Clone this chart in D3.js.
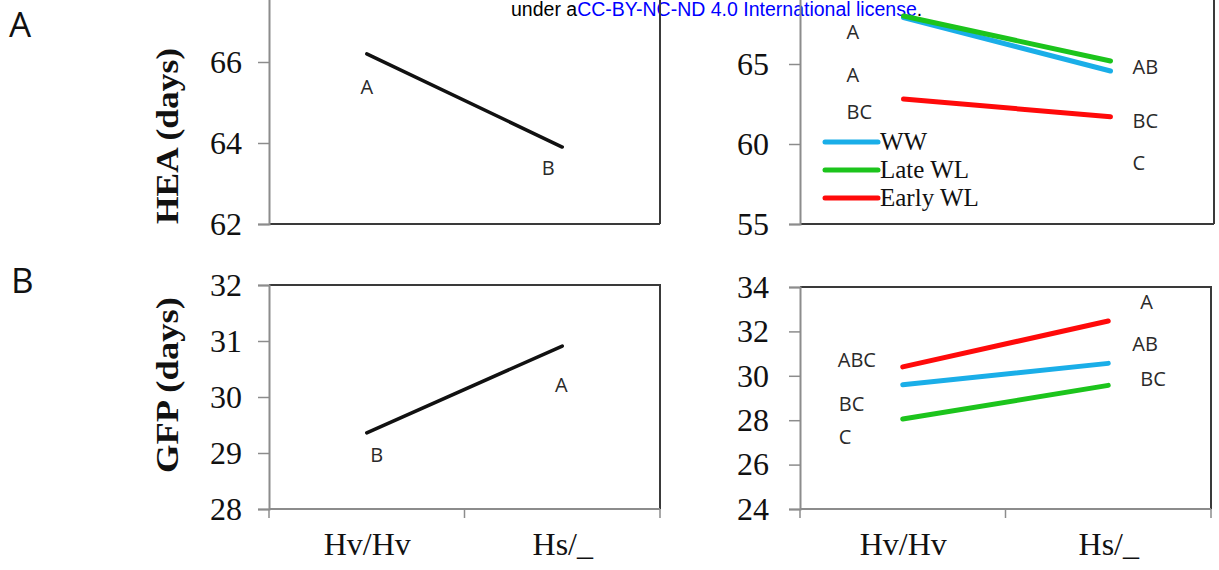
<!DOCTYPE html>
<html>
<head>
<meta charset="utf-8">
<script src="https://cdn.jsdelivr.net/npm/d3@7"></script>
<style>
  html, body { margin: 0; padding: 0; background: #fff; }
  svg { display: block; }
</style>
</head>
<body>
<svg id="chart" width="1219" height="570"></svg>
<script>
// ---- data ----
const categories = ["Hv/Hv", "Hs/_"];
const treatments = ["WW", "Late WL", "Early WL"];

// heading date (HEA), genotype means and genotype x treatment means
const heaMean = [66.2, 63.9];
const heaWW = [67.9, 64.56];
const heaLateWL = [68.0, 65.19];
const heaEarlyWL = [62.81, 61.7];

// grain filling period (GFP)
const gfpMean = [29.36, 30.91];
const gfpWW = [29.6, 30.56];
const gfpLateWL = [28.05, 29.57];
const gfpEarlyWL = [30.4, 32.47];

// mean separation letters
const heaMeanLetters = ["A", "B"];
const gfpMeanLetters = ["B", "A"];
const heaTrtLettersHv = ["A", "A", "BC"];
const heaTrtLettersHs = ["AB", "BC", "C"];
const gfpTrtLettersHv = ["ABC", "BC", "C"];
const gfpTrtLettersHs = ["A", "AB", "BC"];

// axis ticks
const heaMeanTicks = [62, 64, 66, 68];
const heaTrtTicks = [55, 60, 65, 70];
const gfpMeanTicks = [28, 29, 30, 31, 32];
const gfpTrtTicks = [24, 26, 28, 30, 32, 34];

// ---- styles ----
const colors = { "WW": "#1aaee8", "Late WL": "#1cc41c", "Early WL": "#ff0a0a" };
const serif = "'Liberation Serif', 'Times New Roman', serif";
const sans = "'Open Sans', 'Liberation Sans', Arial, sans-serif";
const axisGray = "#8c8c8c";
const boxDark = "#3a3a3a";

const svg = d3.select("#chart");

// header line
const header = svg.append("text")
  .attr("x", 511).attr("y", 16)
  .attr("font-family", "'Liberation Sans', Arial, sans-serif")
  .attr("font-size", 19.5)
  .attr("fill", "#000");
header.append("tspan").text("under a");
header.append("tspan").attr("fill", "#0000ff").text("CC-BY-NC-ND 4.0 International license");
header.append("tspan").text(".");

// panel letters
svg.append("text").attr("x", 9).attr("y", 37).attr("font-family", sans)
  .attr("font-size", 35).attr("fill", "#111").text("A");
svg.append("text").attr("x", 11).attr("y", 293).attr("font-family", sans)
  .attr("font-size", 35).attr("fill", "#111").text("B");

// y titles
function yTitle(text, x, y) {
  svg.append("text")
    .attr("transform", `translate(${x},${y}) rotate(-90)`)
    .attr("text-anchor", "middle")
    .attr("font-family", serif)
    .attr("font-weight", "bold")
    .attr("font-size", 32)
    .attr("textLength", 176)
    .attr("lengthAdjust", "spacingAndGlyphs")
    .attr("fill", "#111")
    .text(text);
}
yTitle("HEA (days)", 178, 136);
yTitle("GFP (days)", 178, 385);

// generic panel
function panel(cfg) {
  const x = d3.scalePoint().domain(categories).range([cfg.left, cfg.right]).padding(0.5);
  const step = x.step();
  const y = d3.scaleLinear().domain(cfg.domain).range([cfg.bottom, cfg.top]);
  const g = svg.append("g");

  // plot box (top and right edges dark)
  g.append("path")
    .attr("d", `M${cfg.left},${y(cfg.domain[1])}H${cfg.right}V${cfg.bottom}`)
    .attr("fill", "none").attr("stroke", boxDark).attr("stroke-width", 2);

  // bottom edge
  g.append("line")
    .attr("x1", cfg.left).attr("x2", cfg.right)
    .attr("y1", cfg.bottom).attr("y2", cfg.bottom)
    .attr("stroke", cfg.showX ? axisGray : boxDark).attr("stroke-width", 2);

  // y axis
  const ya = g.append("g")
    .attr("transform", `translate(${cfg.left},0)`)
    .call(d3.axisLeft(y).tickValues(cfg.ticks).tickSize(11).tickPadding(cfg.pad).tickFormat(d3.format("d")));
  ya.select(".domain").attr("stroke", axisGray).attr("stroke-width", 2);
  ya.selectAll(".tick line").attr("stroke", axisGray).attr("stroke-width", 1.5);
  ya.selectAll(".tick text").attr("font-family", serif).attr("font-size", 32).attr("fill", "#111");

  if (cfg.showX) {
    // category boundary ticks
    const bounds = categories.map(c => x(c) - step / 2).concat([x(categories[categories.length - 1]) + step / 2]);
    g.selectAll(".bt").data(bounds).join("line")
      .attr("x1", d => d).attr("x2", d => d)
      .attr("y1", cfg.bottom).attr("y2", cfg.bottom + 9)
      .attr("stroke", axisGray).attr("stroke-width", 1.5);
    const xa = g.append("g")
      .attr("transform", `translate(0,${cfg.bottom})`)
      .call(d3.axisBottom(x).tickSize(0).tickPadding(23));
    xa.select(".domain").remove();
    xa.selectAll(".tick text").attr("font-family", serif).attr("font-size", 32).attr("fill", "#111");
  }

  // series lines
  const line = d3.line().x((d, i) => x(categories[i])).y(d => y(d));
  cfg.series.forEach(s => {
    g.append("path").datum(s.values)
      .attr("d", line)
      .attr("fill", "none")
      .attr("stroke", s.color)
      .attr("stroke-width", s.width)
      .attr("stroke-linecap", "round");
  });

  // letters
  cfg.letters.forEach(L => {
    g.append("text")
      .attr("x", x(L.cat) + L.dx)
      .attr("y", y(L.v))
      .attr("dy", "0.36em")
      .attr("text-anchor", L.anchor || "middle")
      .attr("font-family", sans)
      .attr("font-size", 20)
      .attr("fill", "#2a2a2a")
      .text(L.text);
  });
  return { x, y, g };
}

// A left: HEA by genotype
panel({
  left: 269, right: 660, top: -19, bottom: 224, domain: [62, 68], ticks: heaMeanTicks, pad: 16,
  showX: false,
  series: [{ values: heaMean, color: "#111", width: 3.5 }],
  letters: [
    { cat: categories[0], dx: 0, v: 65.38, text: heaMeanLetters[0] },
    { cat: categories[1], dx: -14, v: 63.38, text: heaMeanLetters[1] }
  ]
});

// A right: HEA by genotype x treatment
panel({
  left: 800, right: 1214, top: -16, bottom: 224, domain: [55, 70], ticks: heaTrtTicks, pad: 20,
  showX: false,
  series: [
    { values: heaWW, color: colors["WW"], width: 5 },
    { values: heaEarlyWL, color: colors["Early WL"], width: 5 },
    { values: heaLateWL, color: colors["Late WL"], width: 5 }
  ],
  letters: [
    { cat: categories[0], dx: -57, v: 67.0, text: heaTrtLettersHv[0], anchor: "start" },
    { cat: categories[0], dx: -57, v: 64.31, text: heaTrtLettersHv[1], anchor: "start" },
    { cat: categories[0], dx: -57, v: 62.0, text: heaTrtLettersHv[2], anchor: "start" },
    { cat: categories[1], dx: 22, v: 64.81, text: heaTrtLettersHs[0], anchor: "start" },
    { cat: categories[1], dx: 22, v: 61.44, text: heaTrtLettersHs[1], anchor: "start" },
    { cat: categories[1], dx: 22, v: 58.81, text: heaTrtLettersHs[2], anchor: "start" }
  ]
});

// legend inside the HEA treatment panel
const legend = svg.append("g").attr("transform", "translate(825,142)");
treatments.forEach((t, i) => {
  const row = legend.append("g").attr("transform", `translate(0,${i * 28})`);
  row.append("line").attr("x1", 0).attr("x2", 53).attr("y1", 0).attr("y2", 0)
    .attr("stroke", colors[t]).attr("stroke-width", 5).attr("stroke-linecap", "round");
  row.append("text").attr("x", 55).attr("y", 7.5)
    .attr("font-family", serif).attr("font-size", 25).attr("fill", "#111").text(t);
});

// B left: GFP by genotype
panel({
  left: 269, right: 660, top: 285, bottom: 509, domain: [28, 32], ticks: gfpMeanTicks, pad: 16,
  showX: true,
  series: [{ values: gfpMean, color: "#111", width: 3.5 }],
  letters: [
    { cat: categories[0], dx: 10, v: 28.96, text: gfpMeanLetters[0] },
    { cat: categories[1], dx: -1, v: 30.21, text: gfpMeanLetters[1] }
  ]
});

// B right: GFP by genotype x treatment
panel({
  left: 800, right: 1211, top: 287, bottom: 509, domain: [24, 34], ticks: gfpTrtTicks, pad: 20,
  showX: true,
  series: [
    { values: gfpWW, color: colors["WW"], width: 5 },
    { values: gfpLateWL, color: colors["Late WL"], width: 5 },
    { values: gfpEarlyWL, color: colors["Early WL"], width: 5 }
  ],
  letters: [
    { cat: categories[0], dx: -65, v: 30.71, text: gfpTrtLettersHv[0], anchor: "start" },
    { cat: categories[0], dx: -64, v: 28.73, text: gfpTrtLettersHv[1], anchor: "start" },
    { cat: categories[0], dx: -64, v: 27.24, text: gfpTrtLettersHv[2], anchor: "start" },
    { cat: categories[1], dx: 32, v: 33.32, text: gfpTrtLettersHs[0], anchor: "start" },
    { cat: categories[1], dx: 24, v: 31.43, text: gfpTrtLettersHs[1], anchor: "start" },
    { cat: categories[1], dx: 32, v: 29.86, text: gfpTrtLettersHs[2], anchor: "start" }
  ]
});
</script>
</body>
</html>
